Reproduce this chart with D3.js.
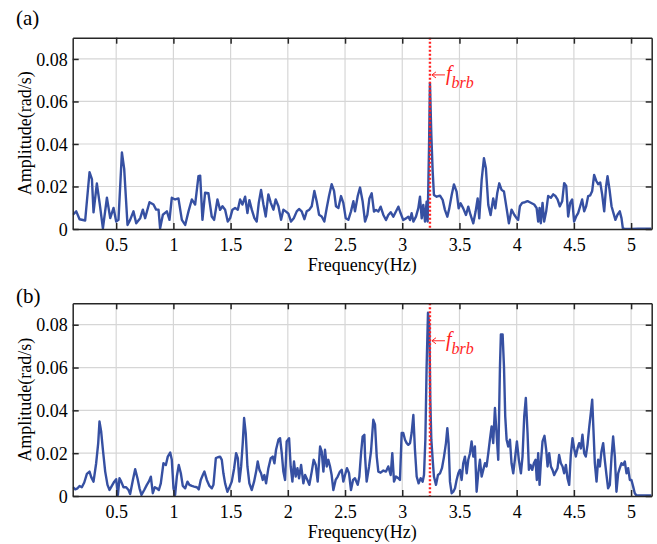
<!DOCTYPE html>
<html>
<head>
<meta charset="utf-8">
<script src="https://cdn.jsdelivr.net/npm/d3@7"></script>
<style>
  html, body { margin: 0; padding: 0; background: #fff; }
  svg { display: block; }
  text { font-family: "Liberation Serif", "Times New Roman", serif; fill: #000; }
</style>
</head>
<body>
<svg id="chart" width="657" height="544"></svg>
<script>
// ---------------- Data ----------------
const xTicks = [0.5, 1, 1.5, 2, 2.5, 3, 3.5, 4, 4.5, 5];
const xTickLabels = ["0.5", "1", "1.5", "2", "2.5", "3", "3.5", "4", "4.5", "5"];
const yTicks = [0, 0.02, 0.04, 0.06, 0.08];
const yTickLabels = ["0", "0.02", "0.04", "0.06", "0.08"];
const panelLabels = ["(a)", "(b)"];
const fbrb = 3.242;

const freqA = [0.122,0.151,0.180,0.229,0.267,0.288,0.302,0.331,0.355,0.384,0.419,0.448,0.477,0.500,0.520,0.550,0.570,0.599,0.622,0.651,0.675,0.710,0.733,0.753,0.791,0.826,0.849,0.870,0.884,0.908,0.943,0.966,0.986,1.015,1.044,1.074,1.103,1.132,1.161,1.190,1.219,1.234,1.254,1.277,1.306,1.335,1.356,1.385,
1.408,1.429,1.452,1.475,1.496,1.516,1.539,1.563,1.583,1.603,1.627,1.647,1.664,1.685,1.708,1.728,1.746,1.766,1.787,1.807,1.830,1.851,1.874,1.894,1.918,1.941,1.961,1.982,2.005,2.028,2.052,2.078,2.098,2.121,2.145,2.165,2.188,2.209,2.232,2.252,2.273,2.296,2.319,2.340,2.360,2.383,2.404,2.421,2.442,2.465,2.485,2.506,2.529,2.552,2.573,2.587,2.611,2.631,
2.654,2.675,2.695,2.713,2.733,2.753,2.771,2.791,2.811,2.835,2.858,2.878,2.899,2.922,2.945,2.966,2.986,3.009,3.033,3.053,3.068,3.082,3.097,3.120,3.140,3.155,3.170,3.184,3.199,3.213,3.222,3.234,3.242,3.254,3.266,3.277,3.301,3.330,3.353,3.373,3.394,3.411,3.432,3.452,3.475,3.493,3.510,3.533,3.557,3.577,3.597,3.621,3.641,3.659,3.673,3.694,3.714,3.731,3.752,3.772,3.795,3.813,3.830,3.848,3.868,3.889,3.912,3.932,3.941,
3.955,3.979,3.999,4.013,4.028,4.048,4.072,4.095,4.115,4.136,4.153,4.174,4.188,4.200,4.211,4.226,4.240,4.258,4.275,4.299,4.319,4.339,4.357,4.377,4.398,4.415,4.433,4.450,4.468,4.485,4.502,4.520,4.537,4.555,4.572,4.590,4.607,4.625,4.642,4.660,4.677,4.695,4.712,4.730,4.747,4.765,4.782,4.794,4.811,4.829,4.846,4.863,4.881,4.901,4.916,4.928,4.945,5.003,5.061,5.178];
const ampA = [0.0067,0.0083,0.0046,0.0040,0.0267,0.0235,0.0078,0.0214,0.0123,0.0003,0.0147,0.0051,0.0099,0.0035,0.0043,0.0360,0.0283,0.0019,0.0043,0.0083,0.0027,0.0051,0.0091,0.0051,0.0126,0.0115,0.0091,0.0091,0.0003,0.0067,0.0083,0.0043,0.0147,0.0139,0.0144,0.0043,0.0019,0.0083,0.0139,0.0115,0.0249,0.0251,0.0043,0.0171,0.0168,0.0059,0.0043,0.0139,
0.0090,0.0107,0.0091,0.0035,0.0051,0.0091,0.0099,0.0091,0.0139,0.0115,0.0152,0.0075,0.0136,0.0091,0.0051,0.0035,0.0123,0.0184,0.0115,0.0059,0.0163,0.0123,0.0091,0.0139,0.0107,0.0043,0.0091,0.0083,0.0072,0.0035,0.0051,0.0083,0.0094,0.0083,0.0046,0.0083,0.0091,0.0107,0.0179,0.0131,0.0067,0.0059,0.0035,0.0099,0.0155,0.0211,0.0179,0.0107,0.0099,0.0155,0.0123,0.0051,0.0043,0.0083,0.0131,0.0083,0.0155,0.0195,
0.0129,0.0035,0.0066,0.0144,0.0168,0.0082,0.0090,0.0082,0.0105,0.0066,0.0042,0.0066,0.0079,0.0058,0.0082,0.0105,0.0074,0.0042,0.0050,0.0058,0.0042,0.0074,0.0035,0.0058,0.0097,0.0152,0.0050,0.0113,0.0035,0.0129,0.0035,0.0383,0.0687,0.0443,0.0270,0.0160,0.0152,0.0157,0.0137,0.0090,0.0058,0.0097,0.0160,0.0210,0.0176,0.0097,0.0121,0.0097,0.0066,0.0105,0.0066,0.0027,0.0082,0.0144,0.0050,0.0231,0.0333,0.0286,0.0113,0.0066,0.0144,0.0097,0.0168,0.0215,0.0184,0.0176,0.0097,0.0027,0.0050,
0.0091,0.0067,0.0051,0.0043,0.0107,0.0123,0.0126,0.0131,0.0126,0.0120,0.0115,0.0099,0.0035,0.0099,0.0027,0.0123,0.0035,0.0083,0.0155,0.0147,0.0163,0.0155,0.0139,0.0107,0.0131,0.0216,0.0203,0.0059,0.0123,0.0139,0.0035,0.0059,0.0075,0.0107,0.0139,0.0083,0.0107,0.0155,0.0158,0.0179,0.0254,0.0227,0.0211,0.0219,0.0163,0.0083,0.0203,0.0248,0.0187,0.0107,0.0075,0.0043,0.0067,0.0083,0.0051,0.0003,0.0000,0.0000,0.0002,0.0002];

const freqB = [0.122,0.142,0.162,0.180,0.200,0.221,0.244,0.267,0.282,0.302,0.325,0.343,0.354,0.369,0.384,0.404,0.424,0.442,0.462,0.483,0.500,0.515,0.529,0.544,0.564,0.587,0.608,0.622,0.646,0.666,0.686,0.704,0.721,0.745,0.768,0.785,0.803,0.820,0.838,0.855,0.873,0.890,0.913,0.934,0.951,0.972,0.986,1.001,1.015,1.030,1.047,1.065,1.082,1.103,1.123,1.140,1.161,1.181,1.205,1.222,1.239,1.257,1.271,1.292,1.315,1.336,1.350,1.371,1.388,1.408,
1.423,1.437,1.452,1.472,1.490,1.510,1.531,1.548,1.563,1.577,1.592,1.606,1.618,1.632,1.647,1.664,1.685,1.705,1.723,1.737,1.752,1.766,1.781,1.795,1.810,1.830,1.851,1.868,1.883,1.897,1.918,1.932,1.947,1.961,1.976,1.990,2.011,2.025,2.040,2.054,2.069,2.084,2.098,2.116,2.136,2.151,2.171,2.188,2.209,2.226,2.244,2.261,2.282,2.296,2.311,2.325,2.340,2.354,2.369,2.383,2.398,2.418,2.436,2.456,2.471,2.485,2.500,2.517,2.535,2.552,2.570,2.587,2.611,2.625,2.640,2.654,2.669,
2.675,2.689,2.710,2.727,2.747,2.762,2.777,2.791,2.811,2.835,2.858,2.878,2.899,2.913,2.928,2.945,2.966,2.980,2.995,3.009,3.024,3.039,3.053,3.068,3.082,3.097,3.111,3.126,3.143,3.161,3.178,3.190,3.202,3.213,3.225,3.237,3.245,3.254,3.266,3.277,3.295,3.312,3.330,3.347,3.365,3.382,3.394,3.405,3.417,3.432,3.446,3.461,3.475,3.490,3.504,3.519,3.533,3.548,3.563,3.577,3.592,3.606,3.621,3.635,3.650,3.664,3.679,3.694,3.708,3.723,3.737,3.752,3.766,3.781,3.795,3.810,3.824,3.839,3.854,3.862,3.877,3.889,3.900,3.912,3.926,3.941,
3.955,3.970,3.984,4.002,4.019,4.037,4.051,4.066,4.080,4.095,4.107,4.121,4.136,4.150,4.165,4.176,4.188,4.200,4.211,4.226,4.243,4.258,4.270,4.284,4.299,4.313,4.328,4.342,4.357,4.371,4.386,4.401,4.415,4.430,4.444,4.459,4.473,4.488,4.502,4.517,4.532,4.546,4.561,4.575,4.590,4.604,4.619,4.633,4.648,4.660,4.671,4.683,4.698,4.712,4.727,4.741,4.756,4.770,4.785,4.799,4.814,4.829,4.843,4.858,4.872,4.887,4.901,4.916,4.930,4.945,4.960,4.974,4.989,5.003,5.018,5.032,5.047,5.090,5.178];
const ampB = [0.0041,0.0031,0.0036,0.0047,0.0041,0.0063,0.0103,0.0114,0.0088,0.0067,0.0153,0.0247,0.0348,0.0300,0.0216,0.0114,0.0052,0.0028,0.0047,0.0067,0.0078,0.0005,0.0083,0.0067,0.0041,0.0041,0.0028,0.0009,0.0075,0.0125,0.0083,0.0036,0.0005,0.0028,0.0052,0.0067,0.0090,0.0013,0.0041,0.0036,0.0028,0.0059,0.0153,0.0145,0.0184,0.0203,0.0169,0.0036,0.0005,0.0091,0.0145,0.0106,0.0047,0.0036,0.0067,0.0052,0.0047,0.0044,0.0041,0.0031,0.0075,0.0098,0.0114,0.0075,0.0047,0.0036,0.0052,0.0177,0.0181,0.0184,
0.0169,0.0106,0.0059,0.0020,0.0041,0.0067,0.0130,0.0200,0.0177,0.0067,0.0138,0.0247,0.0364,0.0294,0.0138,0.0059,0.0028,0.0067,0.0114,0.0161,0.0122,0.0106,0.0075,0.0098,0.0059,0.0130,0.0177,0.0184,0.0153,0.0216,0.0263,0.0270,0.0200,0.0114,0.0075,0.0255,0.0270,0.0138,0.0067,0.0161,0.0091,0.0130,0.0083,0.0145,0.0059,0.0098,0.0075,0.0052,0.0114,0.0169,0.0145,0.0067,0.0231,0.0208,0.0114,0.0216,0.0138,0.0169,0.0138,0.0098,0.0028,0.0075,0.0091,0.0114,0.0122,0.0067,0.0098,0.0130,0.0106,0.0028,0.0075,0.0083,0.0052,0.0091,0.0200,0.0278,0.0286,
0.0184,0.0067,0.0138,0.0208,0.0356,0.0333,0.0184,0.0114,0.0109,0.0119,0.0114,0.0138,0.0098,0.0200,0.0067,0.0091,0.0083,0.0075,0.0294,0.0294,0.0263,0.0247,0.0239,0.0247,0.0294,0.0378,0.0216,0.0091,0.0059,0.0083,0.0067,0.0098,0.0263,0.0606,0.0856,0.0794,0.0450,0.0263,0.0169,0.0091,0.0052,0.0098,0.0106,0.0130,0.0184,0.0247,0.0317,0.0247,0.0067,0.0013,0.0020,0.0036,0.0075,0.0106,0.0122,0.0075,0.0153,0.0184,0.0106,0.0169,0.0200,0.0255,0.0184,0.0231,0.0020,0.0106,0.0169,0.0091,0.0122,0.0153,0.0138,0.0200,0.0263,0.0325,0.0247,0.0411,0.0294,0.0169,0.0606,0.0755,0.0755,0.0606,0.0372,0.0263,0.0231,0.0263,
0.0153,0.0106,0.0169,0.0255,0.0169,0.0106,0.0184,0.0372,0.0458,0.0294,0.0122,0.0145,0.0122,0.0153,0.0169,0.0075,0.0200,0.0052,0.0153,0.0255,0.0281,0.0216,0.0138,0.0200,0.0138,0.0122,0.0098,0.0114,0.0130,0.0192,0.0153,0.0138,0.0106,0.0145,0.0083,0.0052,0.0192,0.0270,0.0222,0.0184,0.0222,0.0247,0.0222,0.0286,0.0200,0.0184,0.0239,0.0317,0.0388,0.0450,0.0309,0.0153,0.0067,0.0169,0.0138,0.0208,0.0247,0.0169,0.0098,0.0036,0.0052,0.0184,0.0278,0.0184,0.0020,0.0106,0.0130,0.0153,0.0145,0.0161,0.0106,0.0130,0.0075,0.0075,0.0044,0.0013,0.0002,0.0002,0.0002];

// ---------------- Layout ----------------
const svg = d3.select("#chart");
const left = 72.7, right = 651.7;
const panels = [
  { top: 37.7, bottom: 229, freq: freqA, amp: ampA, label: panelLabels[0], labelY: 25 },
  { top: 303.3, bottom: 496, freq: freqB, amp: ampB, label: panelLabels[1], labelY: 303 }
];
const lineColor = "#3650a2";
const gridColor = "#d6d6d6";
const axisColor = "#262626";
const red = "#ff2222";

panels.forEach((p, i) => {
  const x = d3.scaleLinear().domain([0.12, 5.18]).range([left, right]);
  const y = d3.scaleLinear().domain([0, 0.09]).range([p.bottom, p.top]);
  const g = svg.append("g");

  // grid
  g.append("g").selectAll("line").data(xTicks).join("line")
    .attr("x1", d => x(d)).attr("x2", d => x(d))
    .attr("y1", p.top).attr("y2", p.bottom)
    .attr("stroke", gridColor).attr("stroke-width", 1.2);
  g.append("g").selectAll("line").data(yTicks.filter(d => d > 0)).join("line")
    .attr("x1", left).attr("x2", right)
    .attr("y1", d => y(d)).attr("y2", d => y(d))
    .attr("stroke", gridColor).attr("stroke-width", 1.2);

  // clip
  const cid = "clip" + i;
  svg.append("defs").append("clipPath").attr("id", cid)
    .append("rect").attr("x", left).attr("y", p.top)
    .attr("width", right - left).attr("height", p.bottom - p.top);

  // data line
  const pts = p.freq.map((f, k) => [f, p.amp[k]]);
  g.append("path")
    .datum(pts)
    .attr("clip-path", `url(#${cid})`)
    .attr("fill", "none")
    .attr("stroke", lineColor)
    .attr("stroke-width", 2.4)
    .attr("stroke-linejoin", "round")
    .attr("d", d3.line().x(d => x(d[0])).y(d => y(d[1])));

  // red dotted fbrb line
  g.append("line")
    .attr("x1", x(fbrb)).attr("x2", x(fbrb))
    .attr("y1", p.top).attr("y2", p.bottom)
    .attr("stroke", red).attr("stroke-width", 2.4)
    .attr("stroke-dasharray", "2,2");

  // annotation: long left arrow + f_brb
  const ax = x(fbrb) + 2, ay = y(0.0725);
  g.append("path")
    .attr("d", `M${ax},${ay} L${ax + 13},${ay} M${ax + 4},${ay - 3} L${ax},${ay} L${ax + 4},${ay + 3}`)
    .attr("fill", "none").attr("stroke", red).attr("stroke-width", 1);
  const ann = g.append("text")
    .attr("x", ax + 14)
    .attr("y", ay + 5)
    .style("fill", red)
    .attr("font-size", 20);
  ann.append("tspan").attr("font-style", "italic").text("f");
  ann.append("tspan").attr("font-style", "italic").attr("font-size", 16)
    .attr("dy", 8).attr("dx", 0).text("brb");

  // axes: box
  const tickLen = 6;
  const bottomAxis = d3.axisBottom(x).tickValues(xTicks)
    .tickFormat((d, k) => xTickLabels[k]).tickSizeInner(-tickLen).tickSizeOuter(0).tickPadding(9.5);
  const topAxis = d3.axisTop(x).tickValues(xTicks).tickFormat("").tickSizeInner(-tickLen).tickSizeOuter(0);
  const leftAxis = d3.axisLeft(y).tickValues(yTicks)
    .tickFormat((d, k) => yTickLabels[k]).tickSizeInner(-tickLen).tickSizeOuter(0).tickPadding(5);
  const rightAxis = d3.axisRight(y).tickValues(yTicks).tickFormat("").tickSizeInner(-tickLen).tickSizeOuter(0);

  const gb = g.append("g").attr("transform", `translate(0,${p.bottom})`).call(bottomAxis);
  const gt = g.append("g").attr("transform", `translate(0,${p.top})`).call(topAxis);
  const gl = g.append("g").attr("transform", `translate(${left},0)`).call(leftAxis);
  const gr = g.append("g").attr("transform", `translate(${right},0)`).call(rightAxis);
  [gb, gt, gl, gr].forEach(a => {
    a.select(".domain").attr("stroke", axisColor).attr("stroke-width", 1.5);
    a.selectAll(".tick line").attr("stroke", axisColor).attr("stroke-width", 1.5);
    a.selectAll(".tick text").attr("font-family", "Liberation Serif, Times New Roman, serif")
      .attr("font-size", 18).attr("fill", "#000");
  });
  gb.selectAll(".tick text").attr("dy", "0.71em");
  gl.selectAll(".tick text").attr("dy", "0.34em");

  // axis labels
  g.append("text")
    .attr("x", (left + right) / 2).attr("y", p.bottom + 42)
    .attr("text-anchor", "middle").attr("font-size", 18)
    .text("Frequency(Hz)");
  g.append("text")
    .attr("transform", `translate(31,${(p.top + p.bottom) / 2}) rotate(-90)`)
    .attr("text-anchor", "middle").attr("font-size", 18)
    .text("Amplitude(rad/s)");

  // panel label
  g.append("text")
    .attr("x", 16).attr("y", p.labelY)
    .attr("font-size", 21)
    .text(p.label);
});
</script>
</body>
</html>
